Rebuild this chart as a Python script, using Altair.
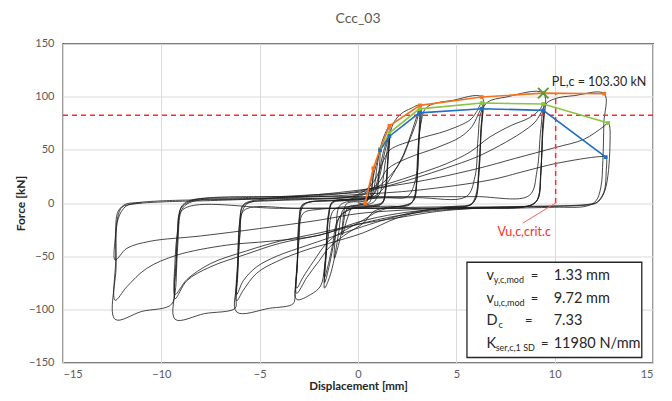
import altair as alt
import pandas as pd

FONT = "Lato"

# ---------------- hysteresis cycles (x = displacement mm, y = force kN) ----------------
CYCLE_01 = [(0.0, 0), (0.4, 0), (0.6, 15), (0.78, 32.7), (0.72, 15), (0.6, 1), (0.3, -1), (0.0, -2), (-0.3, -4),
            (-0.55, -15), (-0.8, -30), (-0.75, -14), (-0.6, -1), (-0.3, 1), (0.0, 1)]
CYCLE_02 = [(0.0, 1), (0.5, 3), (0.78, 25), (0.95, 38), (1.12, 50.6), (1.05, 25), (0.9, 3), (0.6, -1), (0.0, -2),
            (-0.5, -4), (-0.8, -25), (-1.0, -40), (-1.2, -52), (-1.12, -25), (-0.95, -3), (-0.6, 1), (0.0, 2)]
CYCLE_03 = [(0.0, 2), (0.6, 4), (1.0, 38), (1.12, 50.6), (1.35, 64), (1.6, 72.6), (1.52, 45), (1.4, 15), (1.25, 1),
            (0.8, -2), (0.0, -3), (-0.7, -5), (-1.0, -30), (-1.2, -52), (-1.45, -70), (-1.7, -80), (-1.62, -50),
            (-1.5, -15), (-1.3, 0), (-0.8, 2), (0.0, 3)]
CYCLE_04 = [(0.0, 3), (0.7, 6), (1.0, 22), (1.25, 45), (1.45, 58), (1.6, 65.7), (1.52, 40), (1.4, 12), (1.25, 0),
            (0.6, -3), (-0.3, -5), (-0.9, -12), (-1.2, -35), (-1.45, -58), (-1.7, -75), (-1.62, -45), (-1.5, -12),
            (-1.3, 1), (-0.6, 3), (0.2, 4)]
CYCLE_05 = [(0.2, 4), (0.8, 8), (1.1, 25), (1.35, 47), (1.6, 63.2), (1.52, 38), (1.4, 10), (1.2, -1), (0.5, -4),
            (-0.4, -6), (-1.0, -15), (-1.3, -40), (-1.5, -57), (-1.7, -70), (-1.62, -42), (-1.5, -10), (-1.3, 1),
            (-0.5, 3), (0.3, 4)]
CYCLE_06 = [(0.3, 4), (1.0, 6), (1.4, 40), (1.6, 62), (1.8, 75), (2.2, 84), (2.7, 89), (3.15, 91.8), (3.1, 60),
            (3.0, 25), (2.85, 5), (2.6, -2), (1.5, -3), (0.0, -4), (-1.2, -6), (-1.5, -30), (-1.7, -60), (-1.9, -78),
            (-2.4, -86), (-3.12, -90.6), (-3.08, -60), (-3.0, -25), (-2.85, -5), (-2.6, 0), (-1.5, 2), (0.0, 3)]
CYCLE_07 = [(0.0, 3), (0.8, 6), (1.3, 14), (1.8, 28), (2.3, 45), (2.7, 65), (3.0, 82), (3.15, 89.3), (3.1, 58),
            (3.0, 22), (2.85, 3), (2.5, -2), (1.5, -4), (0.8, -8), (0.27, -19), (-0.5, -28), (-1.42, -41),
            (-2.0, -55), (-2.6, -70), (-3.12, -85), (-3.08, -55), (-3.0, -20), (-2.85, -3), (-2.5, 1), (-1.5, 2),
            (-0.5, 3)]
CYCLE_08 = [(-0.5, 3), (0.3, 8), (1.0, 15), (1.6, 25), (2.2, 40), (2.6, 58), (2.95, 75), (3.12, 85.2), (3.07, 55),
            (2.98, 18), (2.82, 2), (2.4, -2), (1.5, -5), (1.0, -8), (0.27, -16), (-0.6, -25), (-1.5, -36),
            (-2.27, -55), (-2.8, -70), (-3.12, -80), (-3.08, -50), (-3.0, -15), (-2.85, -2), (-2.4, 1), (-1.0, 3),
            (0.0, 4)]
CYCLE_09 = [(0.0, 4), (1.5, 5), (2.5, 6), (2.9, 20), (3.05, 50), (3.2, 75), (3.4, 88), (3.8, 93), (4.8, 96.5),
            (6.29, 99.7), (6.25, 70), (6.15, 35), (6.0, 8), (5.75, -1), (5.0, -3), (3.0, -4), (0.0, -5), (-2.0, -6),
            (-2.8, -10), (-3.0, -35), (-3.12, -65), (-3.2, -85), (-3.29, -94.6), (-4.5, -99), (-6.17, -102.5),
            (-6.12, -70), (-6.02, -30), (-5.88, -8), (-5.6, 0), (-4.5, 2), (-3.0, 3), (-1.5, 4)]
CYCLE_10 = [(-1.5, 4), (0.0, 8), (0.8, 20), (1.3, 40), (1.63, 50), (3.0, 60), (4.5, 68), (5.69, 78), (6.0, 85),
            (6.29, 94), (6.25, 65), (6.15, 30), (6.0, 5), (5.7, -2), (4.8, -4), (3.5, -7), (2.0, -14), (0.27, -28),
            (-1.5, -38), (-2.61, -44), (-4.13, -55), (-5.15, -66), (-5.83, -82), (-6.17, -92), (-6.12, -60),
            (-6.02, -20), (-5.85, -3), (-5.4, 1), (-4.0, 3), (-2.5, 4)]
CYCLE_11 = [(-2.5, 4), (0.0, 7), (1.0, 18), (1.5, 32), (2.5, 42), (4.0, 52), (5.2, 62), (5.8, 72), (6.29, 88.7),
            (6.24, 60), (6.14, 25), (5.98, 4), (5.7, -2), (4.5, -4), (3.0, -8), (1.5, -15), (0.27, -22), (-1.5, -33),
            (-2.61, -40), (-4.13, -50), (-5.15, -60), (-5.83, -73), (-6.17, -86), (-6.12, -55), (-6.02, -18),
            (-5.85, -2), (-5.4, 2), (-4.0, 4), (-3.0, 4)]
CYCLE_12 = [(-3.0, 4), (0.0, 5), (3.0, 5), (5.5, 6), (5.95, 25), (6.1, 60), (6.25, 85), (6.6, 95), (7.5, 99.5),
            (9.42, 103.3), (9.38, 70), (9.3, 30), (9.2, 8), (9.0, 0), (8.4, -4), (6.0, -4), (3.0, -5), (0.0, -5),
            (-3.0, -5), (-5.8, -7), (-6.0, -30), (-6.12, -65), (-6.2, -90), (-6.25, -99), (-7.8, -104),
            (-9.3, -109.4), (-9.25, -75), (-9.15, -35), (-9.0, -8), (-8.7, -1), (-8.0, 3), (-6.0, 4), (-4.0, 5)]
CYCLE_13 = [(-4.0, 5), (-2.0, 7), (0.0, 11), (1.5, 18), (3.0, 27), (4.5, 37), (5.7, 48), (6.7, 62), (7.8, 73),
            (8.7, 80), (9.25, 88), (9.42, 93.1), (9.38, 65), (9.3, 28), (9.18, 5), (8.9, -1), (8.2, -4), (6.0, -5),
            (4.0, -7), (2.0, -12), (0.0, -20), (-1.93, -30), (-4.0, -38), (-5.66, -48), (-7.5, -60), (-8.7, -73),
            (-9.3, -90), (-9.25, -60), (-9.15, -25), (-9.0, -5), (-8.6, 1), (-8.0, 4), (-6.0, 5), (-4.0, 6)]
CYCLE_14 = [(-4.0, 6), (-2.0, 8), (0.0, 10), (1.5, 16), (3.0, 24), (4.5, 33), (6.0, 43), (7.2, 54), (8.3, 66),
            (9.0, 76), (9.42, 87.1), (9.38, 60), (9.28, 25), (9.15, 4), (8.8, -2), (8.0, -4), (6.0, -5), (4.0, -8),
            (2.0, -14), (0.0, -20), (-1.93, -28), (-4.0, -36), (-5.66, -45), (-7.5, -57), (-8.7, -72), (-9.3, -86),
            (-9.25, -55), (-9.15, -22), (-9.0, -4), (-8.6, 2), (-7.5, 5), (-6.0, 6)]
CYCLE_15 = [(-6.0, 6), (-3.0, 6), (0.0, 6), (3.0, 6), (6.0, 6), (8.7, 7), (9.1, 30), (9.3, 70), (9.5, 92),
            (10.0, 98), (11.0, 101), (12.52, 102.8), (12.5, 75), (12.45, 40), (12.35, 15), (12.1, 2), (11.6, -3),
            (10.0, -4), (7.0, -5), (3.0, -5), (0.0, -5), (-4.0, -5), (-8.9, -6), (-9.2, -30), (-9.35, -70),
            (-9.47, -95), (-11.0, -102), (-12.35, -109.4), (-12.3, -60), (-12.27, -19), (-12.0, -4), (-11.42, -1),
            (-10.0, 1), (-8.0, 2)]
CYCLE_16 = [(-8.0, 2), (-5.0, 4), (-2.0, 8), (0.0, 12), (3.0, 20), (6.0, 32), (8.0, 42), (10.0, 52), (11.5, 60),
            (12.46, 71.5), (12.73, 75.2), (12.81, 53), (12.56, 12), (12.2, 1), (11.8, -1), (10.0, -3), (7.0, -4),
            (4.0, -6), (2.0, -10), (0.0, -18), (-1.93, -30.2), (-4.5, -36), (-6.67, -39.6), (-9.22, -49.1),
            (-10.75, -61.6), (-11.76, -78.9), (-12.35, -91.5), (-12.32, -55), (-12.2, -15), (-11.8, -3), (-11.3, 0),
            (-10.0, 2), (-8.0, 3)]
CYCLE_17 = [(-8.0, 3), (-5.0, 4), (-2.0, 6), (0.0, 8), (3.0, 12), (6.7, 21.6), (8.5, 30), (10.1, 37.3), (12.3, 43.6),
            (12.6, 43.1), (12.62, 30), (12.5, 10), (12.1, 0), (11.6, -2), (9.0, -3), (6.0, -4), (3.0, -6), (0.0, -10),
            (-1.93, -16), (-5.0, -24), (-8.0, -31), (-10.57, -36), (-11.76, -42.7), (-12.35, -53.8), (-12.33, -30),
            (-12.2, -8), (-11.8, -1), (-11.0, 0)]

CYCLES = [CYCLE_01, CYCLE_02, CYCLE_03, CYCLE_04, CYCLE_05, CYCLE_06, CYCLE_07, CYCLE_08, CYCLE_09,
          CYCLE_10, CYCLE_11, CYCLE_12, CYCLE_13, CYCLE_14, CYCLE_15, CYCLE_16, CYCLE_17]

# ---------------- envelope curves (1st, 2nd, 3rd cycle) ----------------
ENV1_X = [0.36, 0.78, 1.12, 1.6, 3.15, 6.29, 9.42, 12.52]
ENV1_Y = [0.0, 32.7, 50.6, 72.6, 91.8, 99.7, 103.3, 102.8]
ENV2_X = [1.12, 1.6, 3.12, 6.29, 9.42, 12.72]
ENV2_Y = [49.5, 66.0, 88.5, 94.0, 93.1, 75.2]
ENV3_X = [1.12, 1.6, 3.12, 6.29, 9.42, 12.6]
ENV3_Y = [49.5, 62.8, 84.8, 88.7, 87.1, 43.1]
ENV_COLORS = ["#F47321", "#8CC341", "#1F6FC6"]

# ---------------- annotations ----------------
PL_X, PL_Y = 9.42, 103.30
PL_LABEL = "PL,c = 103.30 kN"
PL_LABEL_X, PL_LABEL_Y = 9.85, 113.5
LIMIT_Y = 82.64          # 0.8 * PL
VU_X = 10.05
VU_LABEL = "Vu,c,crit.c"
VU_LABEL_X, VU_LABEL_Y = 8.45, -27.5
VU_LEADER_X, VU_LEADER_Y = 8.37, -19.0

BOX_X = [5.54, 14.43]
BOX_Y = [-55.7, -145.3]
BOX_SYMBOLS = ["v", "v", "D", "K"]
BOX_SYMBOL_X = 6.54
BOX_SUBS = ["y,c,mod", "u,c,mod", "c", "ser,c,1 SD"]
BOX_SUB_X = [6.9, 6.9, 7.15, 7.0]
BOX_EQ_X = [8.78, 8.78, 8.49, 9.3]
BOX_VALUES = ["1.33 mm", "9.72 mm", "7.33", "11980 N/mm"]
BOX_VALUE_X = 9.95
BOX_ROW_Y = [-68.7, -90.3, -111.0, -132.7]

X_TICKS = [-15, -10, -5, 0, 5, 10, 15]
Y_TICKS = [-150, -100, -50, 0, 50, 100, 150]

# ---------------- tables ----------------
rows = []
for ci, cyc in enumerate(CYCLES):
    for pi, (x, y) in enumerate(cyc):
        rows.append({"cycle": ci, "i": pi, "x": x, "y": y})
curves = pd.DataFrame(rows)

env_rows = []
for k, (xs, ys) in enumerate([(ENV1_X, ENV1_Y), (ENV2_X, ENV2_Y), (ENV3_X, ENV3_Y)]):
    for pi, (x, y) in enumerate(zip(xs, ys)):
        env_rows.append({"env": f"c{k + 1}", "i": pi, "x": x, "y": y})
env = pd.DataFrame(env_rows)

sx = alt.Scale(domain=[-15, 15], nice=False, zero=False)
sy = alt.Scale(domain=[-150, 150], nice=False, zero=False)

x_axis = alt.Axis(values=X_TICKS, title="Displacement [mm]", grid=True, gridColor="#d9d9d9", gridWidth=1,
                  domain=False, ticks=False, labelFont=FONT, labelFontSize=11, labelColor="#595959",
                  labelPadding=6, titleFont=FONT, titleFontSize=11.5, titleFontWeight="bold", titleColor="#262626",
                  titleY=29, titleBaseline="bottom")
y_axis = alt.Axis(values=Y_TICKS, title="Force [kN]", grid=True, gridColor="#d9d9d9", gridWidth=1,
                  domain=False, ticks=False, labelFont=FONT, labelFontSize=11, labelColor="#595959",
                  labelPadding=9, titleFont=FONT, titleFontSize=12, titleFontWeight="bold", titleColor="#262626",
                  titleX=-43, titleY=159.5, titleAngle=-90, titleAlign="center", titleBaseline="middle")


def X(f="x"):
    return alt.X(f"{f}:Q", scale=sx, axis=x_axis)


def Y(f="y"):
    return alt.Y(f"{f}:Q", scale=sy, axis=y_axis)


hyst = alt.Chart(curves).mark_line(color="#1a1a1a", strokeWidth=0.8, interpolate="catmull-rom").encode(
    x=X(), y=Y(), detail="cycle:N", order="i:Q",
)

hline = alt.Chart(pd.DataFrame({"x": [-15.0], "x2": [15.0], "y": [LIMIT_Y]})).mark_rule(
    color="#FF2A2A", strokeWidth=1.5, strokeDash=[5, 4]).encode(x=X(), x2="x2:Q", y=Y())
vline = alt.Chart(pd.DataFrame({"x": [VU_X], "y": [0.0], "y2": [PL_Y]})).mark_rule(
    color="#FF2A2A", strokeWidth=1.5, strokeDash=[5, 4]).encode(x=X(), y=Y(), y2="y2:Q")
leader = alt.Chart(pd.DataFrame({"x": [VU_X], "y": [0.0], "x2": [VU_LEADER_X], "y2": [VU_LEADER_Y]})).mark_rule(
    color="#FF6060", strokeWidth=1).encode(x=X(), y=Y(), x2="x2:Q", y2="y2:Q")

env_color = alt.Color("env:N", scale=alt.Scale(domain=["c1", "c2", "c3"], range=ENV_COLORS), legend=None)
env_lines = alt.Chart(env).mark_line(strokeWidth=1.6).encode(x=X(), y=Y(), order="i:Q", color=env_color)
env_pts = alt.Chart(env).mark_square(size=14, opacity=1).encode(x=X(), y=Y(), color=env_color)
pl_mark = alt.Chart(pd.DataFrame({"x": [PL_X], "y": [PL_Y]})).mark_point(
    shape="M -1 -1 L 1 1 M -1 1 L 1 -1", size=110, color="#5E9A3A", filled=False, strokeWidth=2,
    opacity=1).encode(x=X(), y=Y())

pl_text = alt.Chart(pd.DataFrame({"x": [PL_LABEL_X], "y": [PL_LABEL_Y], "t": [PL_LABEL]})).mark_text(
    align="left", baseline="middle", font=FONT, fontSize=12.5, color="#262626").encode(x=X(), y=Y(), text="t:N")
vu_text = alt.Chart(pd.DataFrame({"x": [VU_LABEL_X], "y": [VU_LABEL_Y], "t": [VU_LABEL]})).mark_text(
    align="center", baseline="middle", font=FONT, fontSize=12.5, color="#FF2A2A").encode(x=X(), y=Y(), text="t:N")

box = alt.Chart(pd.DataFrame({"x": [BOX_X[0]], "x2": [BOX_X[1]], "y": [BOX_Y[0]], "y2": [BOX_Y[1]]})).mark_rect(
    fill="white", stroke="#262626", strokeWidth=1.3).encode(x=X(), x2="x2:Q", y=Y(), y2="y2:Q")

box_df = pd.DataFrame({
    "sym": BOX_SYMBOLS, "sub": BOX_SUBS, "subx": BOX_SUB_X, "eqx": BOX_EQ_X, "val": BOX_VALUES,
    "y": BOX_ROW_Y, "symx": [BOX_SYMBOL_X] * 4, "valx": [BOX_VALUE_X] * 4, "eq": ["="] * 4,
})
txt = dict(align="left", baseline="middle", font=FONT, color="#262626")
box_sym = alt.Chart(box_df).mark_text(fontSize=14.5, **txt).encode(x=X("symx"), y=Y(), text="sym:N")
box_sub = alt.Chart(box_df).mark_text(fontSize=9, dy=4, **txt).encode(x=X("subx"), y=Y(), text="sub:N")
box_eq = alt.Chart(box_df).mark_text(fontSize=13, **txt).encode(x=X("eqx"), y=Y(), text="eq:N")
box_val = alt.Chart(box_df).mark_text(fontSize=14.5, **txt).encode(x=X("valx"), y=Y(), text="val:N")

chart = alt.layer(
    hyst, hline, vline, leader, env_lines, env_pts, pl_mark, pl_text, vu_text,
    box, box_sym, box_sub, box_eq, box_val,
).properties(
    width=590, height=319,
    title=alt.TitleParams("Ccc_03", font=FONT, fontSize=14, fontWeight="normal", color="#595959",
                          anchor="middle", offset=12),
    autosize=alt.AutoSizeParams(type="none"),
    padding={"left": 55, "top": 35.5, "right": 11, "bottom": 30},
).configure_view(stroke="#262626", strokeWidth=1.3)

chart.save("out.html", embed_options={"renderer": "svg", "actions": False})
